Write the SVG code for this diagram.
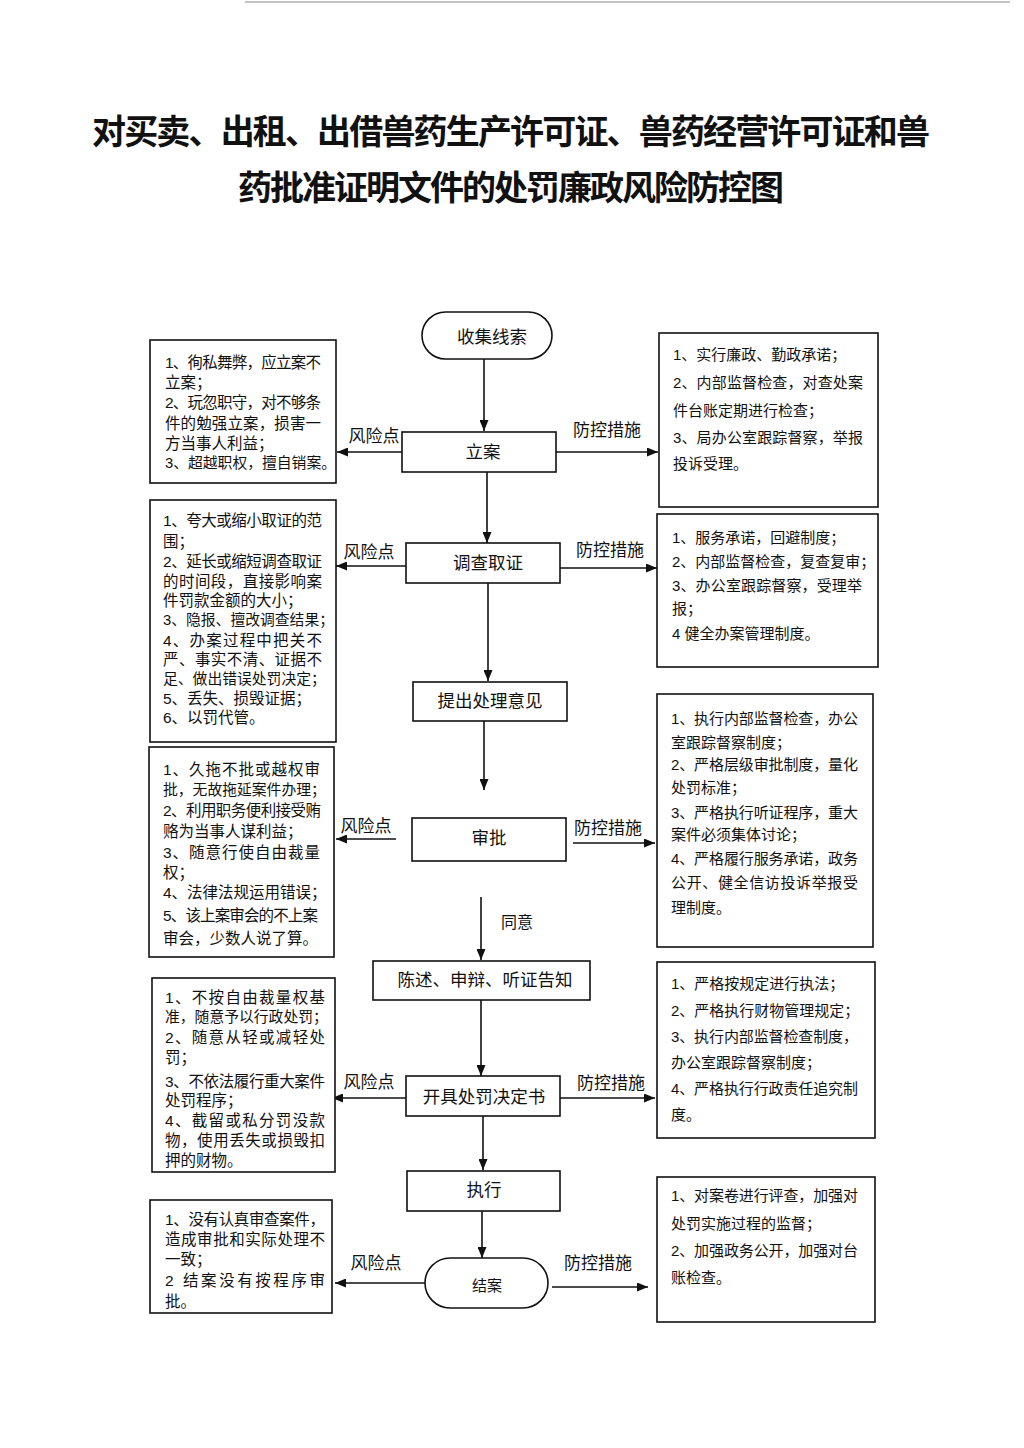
<svg xmlns="http://www.w3.org/2000/svg" width="1024" height="1448" viewBox="0 0 1024 1448">
<style>
.bg{fill:#ffffff}
.box{fill:#ffffff;stroke:#111;stroke-width:1.6}
.node{fill:#ffffff;stroke:#111;stroke-width:1.6}
.con{stroke:#111;stroke-width:1.6;fill:none;marker-end:url(#ah)}
.title{font-family:"Noto Sans CJK SC","Liberation Serif",serif;font-weight:bold;font-size:34px;fill:#111}
.ft{font-family:"Liberation Sans","Noto Sans CJK SC",sans-serif;font-size:17.5px;fill:#111;text-anchor:middle;dominant-baseline:central}
.lb{font-family:"Liberation Sans","Noto Sans CJK SC",sans-serif;font-size:17px;fill:#111;text-anchor:middle;dominant-baseline:central}
.lt{font-family:"Liberation Sans","Noto Sans CJK SC",sans-serif;font-size:15.5px;fill:#111;dominant-baseline:central}
.lt.s{font-size:14.8px}
.rt{font-family:"Liberation Sans","Noto Sans CJK SC",sans-serif;font-size:15px;fill:#111;dominant-baseline:central}
</style>
<defs>
<marker id="ah" markerUnits="userSpaceOnUse" markerWidth="11" markerHeight="9" refX="11" refY="4.5" orient="auto">
<path d="M0,0 L11,4.5 L0,9 z" fill="#111"/>
</marker>
</defs>
<rect class="bg" x="0" y="0" width="1024" height="1448"/>
<line x1="245" y1="2" x2="1010" y2="2" stroke="#888" stroke-width="1.2"/>

<g id="title">
<text class="title" x="92" y="144" textLength="838">对买卖、出租、出借兽药生产许可证、兽药经营许可证和兽</text>
<text class="title" x="238" y="200" textLength="546">药批准证明文件的处罚廉政风险防控图</text>
</g>

<g id="connectors">
<line class="con" x1="484" y1="359" x2="484" y2="431"/>
<line class="con" x1="487" y1="472" x2="487" y2="543"/>
<line class="con" x1="488" y1="583" x2="488" y2="681"/>
<line class="con" x1="484" y1="721" x2="484" y2="790"/>
<line class="con" x1="481" y1="897" x2="481" y2="960"/>
<line class="con" x1="481" y1="1000" x2="481" y2="1076"/>
<line class="con" x1="483" y1="1116" x2="483" y2="1170"/>
<line class="con" x1="482" y1="1211" x2="482" y2="1258"/>
<line class="con" x1="402" y1="452" x2="337" y2="452"/>
<line class="con" x1="556" y1="452" x2="658" y2="452"/>
<line class="con" x1="406" y1="566" x2="336" y2="566"/>
<line class="con" x1="560" y1="568" x2="657" y2="568"/>
<line class="con" x1="396" y1="839" x2="336" y2="839"/>
<line class="con" x1="573" y1="843" x2="655" y2="843"/>
<line class="con" x1="406" y1="1098" x2="332" y2="1098"/>
<line class="con" x1="560" y1="1098" x2="655" y2="1098"/>
<line class="con" x1="425" y1="1283" x2="335" y2="1283"/>
<line class="con" x1="552" y1="1287" x2="648" y2="1287"/>
<text class="lb" x="374" y="436">风险点</text>
<text class="lb" x="607" y="430">防控措施</text>
<text class="lb" x="369" y="552">风险点</text>
<text class="lb" x="610" y="550">防控措施</text>
<text class="lb" x="366" y="826">风险点</text>
<text class="lb" x="608" y="828">防控措施</text>
<text class="lb" x="517" y="922" style="font-size:16px">同意</text>
<text class="lb" x="369" y="1082">风险点</text>
<text class="lb" x="611" y="1083">防控措施</text>
<text class="lb" x="376" y="1263">风险点</text>
<text class="lb" x="598" y="1263">防控措施</text>
</g>

<g id="n-collect">
<rect class="node" x="422" y="312" width="130" height="47" rx="23.5" ry="23.5"/>
<text class="ft" x="492" y="337">收集线索</text>
</g>
<g id="n-lian">
<rect class="node" x="402" y="432" width="154" height="40"/>
<text class="ft" x="483" y="452">立案</text>
</g>
<g id="n-diaocha">
<rect class="node" x="406" y="543" width="154" height="40"/>
<text class="ft" x="488" y="563">调查取证</text>
</g>
<g id="n-tichu">
<rect class="node" x="413" y="682" width="154" height="39"/>
<text class="ft" x="490" y="701">提出处理意见</text>
</g>
<g id="n-shenpi">
<rect class="node" x="412" y="818" width="154" height="43"/>
<text class="ft" x="489" y="838">审批</text>
</g>
<g id="n-chenshu">
<rect class="node" x="373" y="961" width="217" height="39"/>
<text class="ft" x="485" y="980">陈述、申辩、听证告知</text>
</g>
<g id="n-kaiju">
<rect class="node" x="406" y="1076" width="154" height="40"/>
<text class="ft" x="484" y="1097">开具处罚决定书</text>
</g>
<g id="n-zhixing">
<rect class="node" x="407" y="1171" width="153" height="40"/>
<text class="ft" x="484" y="1190">执行</text>
</g>
<g id="n-jiean">
<rect class="node" x="425" y="1258" width="123" height="50" rx="25" ry="25"/>
<text class="ft" x="487" y="1285" style="font-size:15px">结案</text>
</g>

<g id="risk-1">
<rect class="box" x="150" y="340" width="186" height="143"/>
<text class="lt" x="165" y="362" textLength="156">1、徇私舞弊，应立案不</text>
<text class="lt" x="165" y="382">立案；</text>
<text class="lt" x="165" y="402" textLength="156">2、玩忽职守，对不够条</text>
<text class="lt" x="165" y="423" textLength="156">件的勉强立案，损害一</text>
<text class="lt" x="165" y="443">方当事人利益；</text>
<text class="lt s" x="165" y="463">3、超越职权，擅自销案。</text>
</g>
<g id="risk-2">
<rect class="box" x="150" y="500" width="186" height="242"/>
<text class="lt" x="163" y="520" textLength="159">1、夸大或缩小取证的范</text>
<text class="lt" x="163" y="541">围；</text>
<text class="lt" x="163" y="561" textLength="159">2、延长或缩短调查取证</text>
<text class="lt" x="163" y="581" textLength="159">的时间段，直接影响案</text>
<text class="lt" x="163" y="600">件罚款金额的大小；</text>
<text class="lt s" x="163" y="620">3、隐报、擅改调查结果；</text>
<text class="lt" x="163" y="640" textLength="159">4、办案过程中把关不</text>
<text class="lt" x="163" y="659" textLength="159">严、事实不清、证据不</text>
<text class="lt s" x="163" y="679">足、做出错误处罚决定；</text>
<text class="lt" x="163" y="698">5、丢失、损毁证据；</text>
<text class="lt" x="163" y="717">6、以罚代管。</text>
</g>
<g id="risk-3">
<rect class="box" x="149" y="747" width="185" height="210"/>
<text class="lt" x="163" y="769" textLength="157">1、久拖不批或越权审</text>
<text class="lt s" x="163" y="790">批，无故拖延案件办理；</text>
<text class="lt" x="163" y="810" textLength="158">2、利用职务便利接受贿</text>
<text class="lt" x="163" y="831">赂为当事人谋利益；</text>
<text class="lt" x="163" y="852" textLength="157">3、随意行使自由裁量</text>
<text class="lt" x="163" y="872">权；</text>
<text class="lt" x="163" y="892">4、法律法规运用错误；</text>
<text class="lt" x="163" y="915" textLength="155">5、该上案审会的不上案</text>
<text class="lt" x="163" y="938">审会，少数人说了算。</text>
</g>
<g id="risk-4">
<rect class="box" x="152" y="978" width="183" height="194"/>
<text class="lt" x="165" y="997" textLength="160">1、不按自由裁量权基</text>
<text class="lt s" x="165" y="1017">准，随意予以行政处罚；</text>
<text class="lt" x="165" y="1037" textLength="160">2、随意从轻或减轻处</text>
<text class="lt" x="165" y="1057">罚；</text>
<text class="lt" x="165" y="1081" textLength="160">3、不依法履行重大案件</text>
<text class="lt" x="165" y="1100">处罚程序；</text>
<text class="lt" x="165" y="1120" textLength="160">4、截留或私分罚没款</text>
<text class="lt" x="165" y="1140" textLength="160">物，使用丢失或损毁扣</text>
<text class="lt" x="165" y="1160">押的财物。</text>
</g>
<g id="risk-5">
<rect class="box" x="150" y="1200" width="182" height="113"/>
<text class="lt" x="165" y="1219" textLength="160">1、没有认真审查案件，</text>
<text class="lt" x="165" y="1239" textLength="160">造成审批和实际处理不</text>
<text class="lt" x="165" y="1259">一致；</text>
<text class="lt" x="165" y="1280" textLength="160">2 结案没有按程序审</text>
<text class="lt" x="165" y="1301">批。</text>
</g>

<g id="measure-1">
<rect class="box" x="659" y="333" width="219" height="174"/>
<text class="rt" x="673" y="354">1、实行廉政、勤政承诺；</text>
<text class="rt" x="673" y="382" textLength="190">2、内部监督检查，对查处案</text>
<text class="rt" x="673" y="410">件台账定期进行检查；</text>
<text class="rt" x="673" y="437" textLength="190">3、局办公室跟踪督察，举报</text>
<text class="rt" x="673" y="463">投诉受理。</text>
</g>
<g id="measure-2">
<rect class="box" x="657" y="514" width="221" height="153"/>
<text class="rt" x="672" y="537">1、服务承诺，回避制度；</text>
<text class="rt" x="672" y="561">2、内部监督检查，复查复审；</text>
<text class="rt" x="672" y="585" textLength="190">3、办公室跟踪督察，受理举</text>
<text class="rt" x="672" y="608">报；</text>
<text class="rt" x="672" y="633">4 健全办案管理制度。</text>
</g>
<g id="measure-3">
<rect class="box" x="657" y="694" width="216" height="253"/>
<text class="rt" x="671" y="718" textLength="187">1、执行内部监督检查，办公</text>
<text class="rt" x="671" y="742">室跟踪督察制度；</text>
<text class="rt" x="671" y="764" textLength="187">2、严格层级审批制度，量化</text>
<text class="rt" x="671" y="787">处罚标准；</text>
<text class="rt" x="671" y="812" textLength="187">3、严格执行听证程序，重大</text>
<text class="rt" x="671" y="834">案件必须集体讨论；</text>
<text class="rt" x="671" y="858" textLength="187">4、严格履行服务承诺，政务</text>
<text class="rt" x="671" y="882" textLength="187">公开、健全信访投诉举报受</text>
<text class="rt" x="671" y="907">理制度。</text>
</g>
<g id="measure-4">
<rect class="box" x="657" y="962" width="218" height="176"/>
<text class="rt" x="671" y="983">1、严格按规定进行执法；</text>
<text class="rt" x="671" y="1010">2、严格执行财物管理规定；</text>
<text class="rt" x="671" y="1036" textLength="187">3、执行内部监督检查制度，</text>
<text class="rt" x="671" y="1062">办公室跟踪督察制度；</text>
<text class="rt" x="671" y="1088" textLength="187">4、严格执行行政责任追究制</text>
<text class="rt" x="671" y="1114">度。</text>
</g>
<g id="measure-5">
<rect class="box" x="657" y="1177" width="218" height="145"/>
<text class="rt" x="671" y="1195" textLength="187">1、对案卷进行评查，加强对</text>
<text class="rt" x="671" y="1223">处罚实施过程的监督；</text>
<text class="rt" x="671" y="1250" textLength="187">2、加强政务公开，加强对台</text>
<text class="rt" x="671" y="1277">账检查。</text>
</g>
</svg>
